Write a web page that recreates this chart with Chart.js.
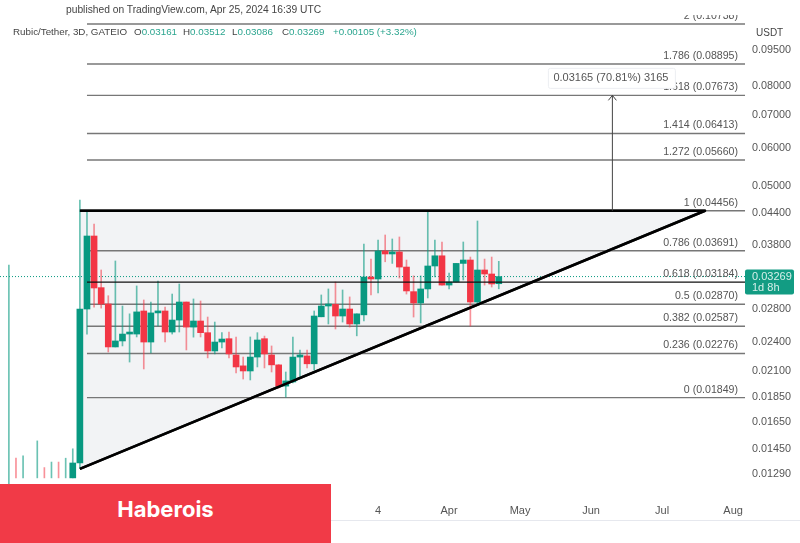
<!DOCTYPE html>
<html>
<head>
<meta charset="utf-8">
<script src="https://cdn.jsdelivr.net/npm/chart.js@4/dist/chart.umd.min.js"></script>
<style>
  html, body { margin: 0; padding: 0; background: #fff; }
  #wrap { position: relative; width: 800px; height: 543px; overflow: hidden; font-family: "Liberation Sans", Arial, sans-serif; }
  canvas { position: absolute; left: 0; top: 0; }
  #published { position: absolute; left: 0; top: 0; width: 800px; height: 15px; background: #fff; }
  #published span { position: absolute; left: 66px; top: 3px; font-size: 10.25px; line-height: 13px; color: #444; white-space: nowrap; }
  #legend { position: absolute; left: 13px; top: 25px; font-size: 9.8px; line-height: 13px; color: #444; white-space: nowrap; }
  #legend span { position: absolute; top: 0; }
  #legend b { font-weight: normal; color: #2ba58f; }
  #unit { position: absolute; left: 756px; top: 26px; font-size: 10px; line-height: 13px; color: #444; }
  #banner { position: absolute; left: 0; top: 484px; width: 331px; height: 59px; background: #f13a47; color: #fff;
            font-family: Inter, sans-serif; font-weight: 700; font-size: 22px; line-height: 50px; text-align: center; }
</style>
</head>
<body>
<div id="wrap">
  <canvas id="chart" width="800" height="543"></canvas>
  <div id="published"><span>published on TradingView.com, Apr 25, 2024 16:39 UTC</span></div>
  <div id="legend">
    <span style="left:0">Rubic/Tether, 3D, GATEIO</span>
    <span style="left:121px">O<b>0.03161</b></span>
    <span style="left:170px">H<b>0.03512</b></span>
    <span style="left:219px">L<b>0.03086</b></span>
    <span style="left:269px">C<b>0.03269</b></span>
    <span style="left:320px"><b>+0.00105 (+3.32%)</b></span>
  </div>
  <div id="unit">USDT</div>
  <div id="banner">Haberois</div>
</div>
<script>
// candles, bar number on the 3D axis (bar 3 has no candle in the picture)
const barIndex = [0,1,2,4,5,6,7,8,9,10,11,12,13,14,15,16,17,18,19,20,21,22,23,24,25,26,27,28,29,30,31,32,33,34,35,36,37,38,39,40,41,42,43,44,45,46,47,48,49,50,51,52,53,54,55,56,57,58,59,60,61,62,63,64,65,66,67,68,69];
const opens  = [.0118,.0118,.0118,.0118,.0118,.0118,.0118,.0118,.01267,.01359,.02806,.03957,.03103,.02873,.02347,.02414,.02494,.02494,.0278,.02402,.02755,.0278,.02518,.02664,.029,.02577,.02652,.0251,.02303,.02402,.0244,.0226,.02147,.02096,.02238,.0244,.0226,.02157,.01952,.0199,.02238,.0225,.02168,.02705,.02846,.02868,.02715,.02806,.02615,.0273,.03262,.03232,.03688,.03636,.0367,.03419,.03045,.02887,.03084,.03436,.03605,.03141,.03187,.03478,.03534,.029,.03372,.03309,.03161];
const closes = [.01185,.01175,.01185,.01185,.01175,.01185,.01175,.01185,.01359,.02806,.03957,.03098,.02873,.02347,.02414,.02494,.025,.02768,.02402,.02755,.0278,.02518,.02664,.029,.02577,.02652,.0251,.02303,.02402,.02436,.02271,.02136,.02096,.02238,.02425,.02271,.02157,.01952,.02,.02238,.0226,.02168,.02715,.02846,.0286,.02715,.02806,.02615,.02743,.03262,.03232,.03688,.03636,.0367,.03419,.03055,.02887,.03084,.03436,.03605,.03141,.03187,.03478,.03534,.029,.03372,.03309,.03157,.03269];
const highs  = [.03452,.0139,.01405,.01508,.0133,.01365,.01365,.0139,.01453,.04688,.04452,.04187,.03372,.02987,.03518,.02846,.02743,.03128,.02928,.029,.03202,.02832,.03011,.03157,.029,.02942,.02914,.02702,.02639,.0251,.02518,.0246,.02238,.0246,.0251,.0247,.02358,.0216,.02086,.0246,.02314,.02314,.0278,.02998,.03084,.03187,.03069,.0297,.02743,.0381,.0355,.03884,.03976,.03902,.03939,.03534,.0328,.0328,.0443,.03884,.03847,.03325,.03478,.03847,.03584,.04247,.0355,.03584,.03512];
const lows   = [.0118,.01267,.01267,.01267,.01267,.01267,.01267,.01267,.01267,.01327,.02494,.02832,.02818,.02292,.02347,.02358,.02186,.0246,.02116,.02281,.0259,.02402,.02494,.02518,.02314,.02458,.0246,.02229,.02271,.02336,.02229,.02076,.02018,.02009,.02136,.02126,.02086,.01934,.01853,.01981,.02038,.02126,.02106,.02705,.02615,.02554,.02639,.02577,.02473,.02652,.02998,.03026,.03505,.03478,.03247,.03011,.02702,.02628,.02956,.03262,.03141,.03084,.03187,.03217,.0259,.02873,.03141,.03112,.03086];

// fib retracement levels
const fibLevels = ["2", "1.786", "1.618", "1.414", "1.272", "1", "0.786", "0.618", "0.5", "0.382", "0.236", "0"];
const fibPrices = [0.10738, 0.08895, 0.07673, 0.06413, 0.05660, 0.04456, 0.03691, 0.03184, 0.02870, 0.02587, 0.02276, 0.01849];
const fibFirstBar = 11;
const fibLastBar = 103.68;

// triangle drawn on the chart: bar numbers and prices
const triangleBars = [10, 98.04, 10];
const trianglePrices = [0.04456, 0.04456, 0.01322];

// measure arrow
const arrowBar = 85;
const arrowPrices = [0.04456, 0.07673];
const arrowLabel = "0.03165 (70.81%) 3165";

const lastPrice = 0.03269;
const lastCountdown = "1d 8h";

const priceTicks = [0.095, 0.08, 0.07, 0.06, 0.05, 0.044, 0.038, 0.028, 0.024, 0.021, 0.0185, 0.0165, 0.0145, 0.0129];
const timeTickBars = [52, 62, 72, 82, 92, 102];
const timeTickLabels = ["4", "Apr", "May", "Jun", "Jul", "Aug"];

const GREEN = "#089981";
const RED = "#f23645";
const GREEN_WICK = "rgba(8,153,129,0.6)";
const RED_WICK = "rgba(242,54,69,0.55)";
const TEXT = "#555";
const FONT = '11px "Liberation Sans", Arial, sans-serif';
const FIB_FONT = '10.6px "Liberation Sans", Arial, sans-serif';

const isUp = i => closes[i] >= opens[i];

function lineSet(bars, prices, color, width, order, extra) {
    return Object.assign({
        type: "line",
        data: bars.map((b, i) => ({ x: b, y: prices[i] })),
        borderColor: color,
        borderWidth: width,
        pointRadius: 0,
        tension: 0,
        fill: false,
        order: order
    }, extra || {});
}

const datasets = [];

// triangle fill and its left edge sit behind the candles
datasets.push(lineSet(triangleBars, trianglePrices, "#2b2b2b", 2.6, 40, { fill: "shape", backgroundColor: "#f2f3f5", borderJoinStyle: "round" }));

fibLevels.forEach((level, i) => {
    const black = level === "0.618";
    datasets.push(lineSet([fibFirstBar, fibLastBar], [fibPrices[i], fibPrices[i]], black ? "#111" : "#777", 1.4, black ? 5 : 30));
});

datasets.push(lineSet([-1.25, 103.96], [lastPrice, lastPrice], GREEN, 1, 25, { borderDash: [1, 2] }));

datasets.push({
    type: "bar",
    data: barIndex.map((b, i) => ({ x: b, y: [lows[i], highs[i]] })),
    backgroundColor: barIndex.map((b, i) => isUp(i) ? GREEN_WICK : RED_WICK),
    barThickness: 1,
    grouped: false,
    order: 20
});
datasets.push({
    type: "bar",
    data: barIndex.map((b, i) => ({ x: b, y: [opens[i], closes[i]] })),
    backgroundColor: barIndex.map((b, i) => isUp(i) ? GREEN : RED),
    barThickness: 6,
    minBarLength: 2,
    grouped: false,
    order: 10
});

// top edge and rising trend line go over the candles
datasets.push(lineSet(triangleBars, trianglePrices, "#000", 2.6, 4, { borderJoinStyle: "round" }));
datasets.push(lineSet([arrowBar, arrowBar], arrowPrices, "#444", 1, 3));

const annotations = {
    id: "annotations",
    afterDatasetsDraw(chart) {
        const ctx = chart.ctx;
        const x = chart.scales.x;
        const y = chart.scales.y;
        ctx.save();
        ctx.textBaseline = "middle";

        // fib labels
        ctx.font = FIB_FONT;
        ctx.fillStyle = TEXT;
        ctx.textAlign = "right";
        fibLevels.forEach((level, i) => {
            ctx.fillText(level + " (" + fibPrices[i].toFixed(5) + ")", 738, y.getPixelForValue(fibPrices[i]) - 8);
        });

        // arrow head
        ctx.font = FONT;
        const ax = x.getPixelForValue(arrowBar);
        const ay = y.getPixelForValue(arrowPrices[1]);
        ctx.strokeStyle = "#444";
        ctx.lineWidth = 1;
        ctx.beginPath();
        ctx.moveTo(ax - 4, ay + 5);
        ctx.lineTo(ax, ay);
        ctx.lineTo(ax + 4, ay + 5);
        ctx.stroke();

        // measure box
        ctx.fillStyle = "#fff";
        ctx.strokeStyle = "#eceef2";
        ctx.beginPath();
        ctx.roundRect(ax - 64, ay - 27, 127, 20, 2);
        ctx.fill();
        ctx.stroke();
        ctx.fillStyle = TEXT;
        ctx.textAlign = "left";
        ctx.fillText(arrowLabel, ax - 59, ay - 17);

        // last price tag
        const py = y.getPixelForValue(lastPrice);
        ctx.fillStyle = "#129c83";
        ctx.beginPath();
        ctx.roundRect(745, py - 7, 49, 25, 2);
        ctx.fill();
        ctx.fillStyle = "#d5efe9";
        ctx.fillText(lastPrice.toFixed(5), 752, py);
        ctx.fillText(lastCountdown, 752, py + 11);

        // bottom edge of the time axis
        ctx.strokeStyle = "#e6e8ee";
        ctx.beginPath();
        ctx.moveTo(0, 520.5);
        ctx.lineTo(800, 520.5);
        ctx.stroke();
        ctx.restore();
    }
};

new Chart(document.getElementById("chart"), {
    type: "bar",
    data: { datasets: datasets },
    plugins: [annotations],
    options: {
        responsive: false,
        animation: false,
        layout: { padding: { top: 8, bottom: 23, left: 0, right: 0 } },
        plugins: { legend: { display: false }, tooltip: { enabled: false } },
        scales: {
            x: {
                type: "linear",
                offset: false,
                min: -1.25,
                max: 103.96,
                grid: { display: false, drawTicks: false },
                border: { display: false },
                afterBuildTicks: s => { s.ticks = timeTickBars.map(v => ({ value: v })); },
                afterFit: s => { s.height = 20; s.paddingLeft = 0; s.paddingRight = 0; },
                ticks: {
                    autoSkip: false,
                    maxRotation: 0,
                    padding: 4,
                    color: TEXT,
                    font: { family: '"Liberation Sans"', size: 11 },
                    callback: v => timeTickLabels[timeTickBars.indexOf(v)]
                }
            },
            y: {
                type: "logarithmic",
                position: "right",
                min: 0.011417,
                max: 0.11577,
                grid: { display: false, drawTicks: false },
                border: { display: false },
                afterBuildTicks: s => { s.ticks = priceTicks.map(v => ({ value: v })); },
                afterFit: s => { s.width = 53; s.paddingTop = 0; s.paddingBottom = 0; },
                ticks: {
                    autoSkip: false,
                    padding: 5,
                    color: TEXT,
                    font: { family: '"Liberation Sans"', size: 10.8 },
                    callback: v => Number(v).toFixed(5)
                }
            }
        }
    }
});
</script>
</body>
</html>
